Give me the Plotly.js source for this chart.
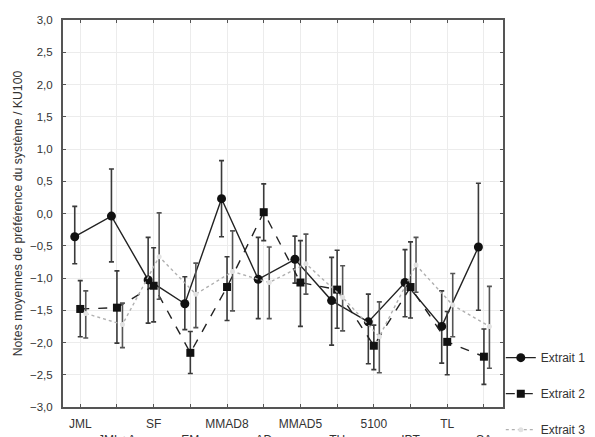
<!DOCTYPE html>
<html>
<head>
<meta charset="utf-8">
<script src="https://cdn.plot.ly/plotly-3.0.1.min.js"></script>
<style>html,body{margin:0;padding:0;background:#fff;overflow:hidden;}#chart{width:595px;height:437px;}</style>
</head>
<body>
<div id="chart"></div>
<script>
const categories = ['JML','JML+A','SF','EM','MMAD8','AD','MMAD5','TH','5100','IPT','TL','SA'];

const ex1Mean = [-0.36, -0.04, -1.03, -1.40, 0.23, -1.02, -0.71, -1.35, -1.68, -1.07, -1.75, -0.52];
const ex1High = [0.11, 0.69, -0.37, -0.98, 0.82, -0.37, -0.35, -0.68, -1.25, -0.56, -1.20, 0.47];
const ex1Low  = [-0.78, -0.75, -1.70, -1.80, -0.36, -1.63, -1.08, -2.04, -2.33, -1.60, -2.32, -1.50];

const ex2Mean = [-1.48, -1.46, -1.12, -2.16, -1.14, 0.02, -1.07, -1.18, -2.05, -1.14, -1.99, -2.22];
const ex2High = [-1.04, -0.89, -0.53, -1.83, -0.67, 0.46, -0.42, -0.57, -1.73, -0.44, -1.52, -1.79];
const ex2Low  = [-1.91, -2.01, -1.68, -2.48, -1.66, -0.42, -1.75, -1.78, -2.42, -1.62, -2.50, -2.65];

const ex3Mean = [-1.55, -1.72, -0.67, -1.25, -0.90, -1.07, -0.78, -1.30, -1.91, -0.80, -1.42, -1.75];
const ex3High = [-1.20, -1.39, 0.01, -0.77, -0.27, -0.52, -0.32, -0.81, -1.37, -0.37, -0.93, -1.13];
const ex3Low  = [-1.93, -2.08, -1.33, -1.77, -1.51, -1.63, -1.25, -1.82, -2.47, -1.22, -1.91, -2.40];

const seriesNames = ['Extrait 1', 'Extrait 2', 'Extrait 3'];
const yTickVals = [-3,-2.5,-2,-1.5,-1,-0.5,0,0.5,1,1.5,2,2.5,3];

const FONT = 'Liberation Sans, Arial, sans-serif';
const idx = categories.map((c, i) => i);
const tickText = categories.map((c, i) => i % 2 === 0 ? c : '<br>' + c);

function mk(name, mean, hi, lo, off, line, marker, group, ebColor) {
  return {
    type: 'scatter', mode: 'lines+markers', name: name, legendgroup: group,
    x: idx.map(i => i + off), y: mean,
    line: line, marker: marker,
    error_y: {
      type: 'data', symmetric: false,
      array: hi.map((h, i) => h - mean[i]),
      arrayminus: lo.map((l, i) => mean[i] - l),
      color: ebColor, thickness: 1.6, width: 2.5
    }
  };
}

const traces = [
  mk(seriesNames[0], ex1Mean, ex1High, ex1Low, -0.15,
     {color: '#222', width: 1.4, dash: 'solid'},
     {symbol: 'circle', size: 9, color: '#111'}, 'g1', '#3a3a3a'),
  mk(seriesNames[1], ex2Mean, ex2High, ex2Low, 0,
     {color: '#222', width: 1.4, dash: 'dash'},
     {symbol: 'square', size: 8, color: '#111'}, 'g2', '#3a3a3a'),
  mk(seriesNames[2], ex3Mean, ex3High, ex3Low, 0.15,
     {color: '#b0b0b0', width: 1.4, dash: 'dot'},
     {symbol: 'circle', size: 5, color: '#e2e2e2'}, 'g3', '#555')
];

const layout = {
  width: 595, height: 437,
  margin: {l: 63, r: 92, t: 20, b: 30, autoexpand: false},
  paper_bgcolor: '#fff', plot_bgcolor: '#fff',
  separators: ', ',
  font: {family: FONT, size: 12, color: '#333'},
  showlegend: true,
  legend: {
    x: 0.995, xanchor: 'left', y: 0.165, yanchor: 'top',
    traceorder: 'grouped', tracegroupgap: 17,
    font: {family: FONT, size: 12, color: '#333'},
    bgcolor: 'rgba(0,0,0,0)'
  },
  xaxis: {
    range: [-0.47, 11.52],
    tickvals: idx, ticktext: tickText,
    ticks: 'inside', ticklen: 3, tickcolor: '#555',
    showline: true, linecolor: '#555', linewidth: 2, mirror: 'ticks',
    showgrid: true, gridcolor: '#ececec', gridwidth: 1,
    zeroline: false, automargin: false,
    tickfont: {family: FONT, size: 12, color: '#333'},
    ticklabelstandoff: 5,
    fixedrange: true
  },
  yaxis: {
    range: [-3, 3],
    tickvals: yTickVals, tickformat: '.1f',
    ticks: 'inside', ticklen: 3, tickcolor: '#555',
    showline: true, linecolor: '#555', linewidth: 2, mirror: 'ticks',
    showgrid: true, gridcolor: '#ececec', gridwidth: 1,
    zeroline: false, automargin: false,
    tickfont: {family: FONT, size: 11.5, color: '#333'},
    ticklabelstandoff: 6,
    title: {text: 'Notes moyennes de préférence du système / KU100', font: {family: FONT, size: 12.3, color: '#333'}, standoff: 5},
    fixedrange: true
  }
};

Plotly.newPlot('chart', traces, layout, {displayModeBar: false, staticPlot: true});
</script>
</body>
</html>
